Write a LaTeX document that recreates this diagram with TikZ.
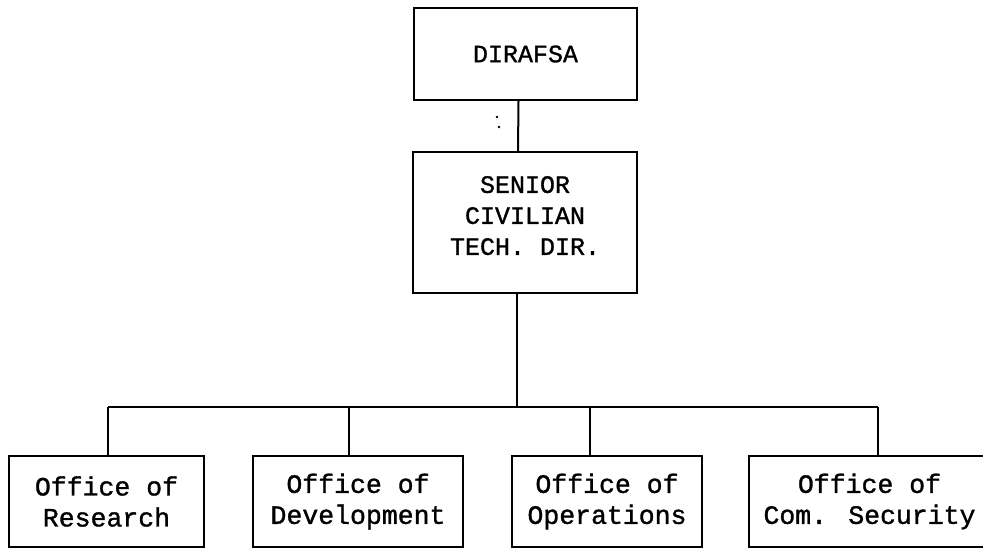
\documentclass[tikz,border=0pt]{standalone}
\usepackage{fontspec}
\newfontfamily\tw{Liberation Mono}[UprightFeatures={FakeBold=1.2}]
\begin{document}
\begin{tikzpicture}[x=1pt,y=-1pt,
  box/.style={draw, line width=2pt, inner sep=0pt, align=center,
    font=\tw\fontsize{25}{31}\selectfont},
  obox/.style={box, minimum height=91pt, font=\tw\fontsize{26.5}{31}\selectfont},
  conn/.style={line width=2pt}]
\useasboundingbox (0,0) rectangle (983,550);
\clip (0,0) rectangle (983,550);
\node[box, minimum width=223pt, minimum height=92pt] (dir) at (525.5,54) {DIRAFSA};
\node[box, minimum width=224pt, minimum height=141pt, text depth=14pt] (sen) at (525,222.5) {SENIOR\\CIVILIAN\\TECH. DIR.};
\node[obox, minimum width=195pt] (b1) at (106.5,501.5) {Office of\\Research};
\node[obox, minimum width=210pt] (b2) at (358,501.5) {Office of\\Development};
\node[obox, minimum width=190pt] (b3) at (607,501.5) {Office of\\Operations};
\node[obox, minimum width=241pt] (b4) at (869.5,501.5) {Office of\\Com. Security};
\coordinate (barL) at (108,407);
\coordinate (bar2) at (349,407);
\coordinate (bar3) at (590,407);
\coordinate (barR) at (878,407);
\draw[conn] ([xshift=-7pt]dir.south) -- ([xshift=-7pt]sen.north);
\draw[conn] ([xshift=-8pt]sen.south) -- ([xshift=-8pt]sen.south |- barL);
\draw[conn] (barL) -- (barR);
\draw[conn] (barL) -- (barL |- b1.north);
\draw[conn] (bar2) -- (bar2 |- b2.north);
\draw[conn] (bar3) -- (bar3 |- b3.north);
\draw[conn] (barR) -- (barR |- b4.north);
\fill (497,117) circle (1.3);
\fill (499,127) circle (1.3);
\end{tikzpicture}
\end{document}
